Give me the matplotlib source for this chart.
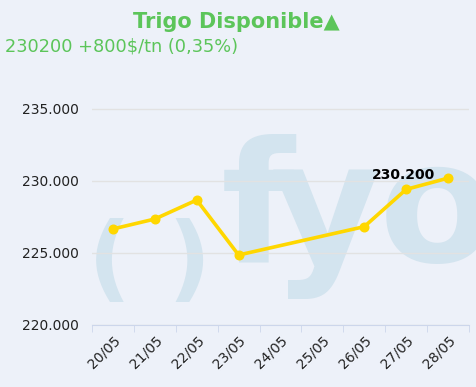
import matplotlib
matplotlib.use("Agg")
import matplotlib.pyplot as plt
import numpy as np

categories = ["20/05", "21/05", "22/05", "23/05", "24/05", "25/05", "26/05", "27/05", "28/05"]
values = [226.67, 227.36, 228.68, 224.86, None, None, 226.83, 229.42, 230.20]
yticks = [220, 225, 230, 235]
ytick_labels = ["220.000", "225.000", "230.000", "235.000"]
title = "Trigo Disponible▲"
subtitle = "230200 +800$/tn (0,35%)"
last_label = "230.200"

bg = "#edf1f9"
green = "#5cc55a"
gold = "#ffd700"
wm = "#d3e4ef"

fig = plt.figure(figsize=(4.76, 3.87), dpi=100, facecolor=bg)
ax = fig.add_axes([92/476, 1-325/387, (469-92)/476, (325-90)/387])
ax.set_facecolor(bg)

# watermark (drawn inside axes, below the grid)
for xpos, s in [(109, "("), (189, ")")]:
    ax.text(xpos/476, 1-290/387, s, fontsize=68, fontweight="bold", color=wm, ha="center",
            va="baseline", transform=fig.transFigure, zorder=0.2, clip_on=False)
for xpos, s in [(258, "f"), (326, "y"), (437, "o")]:
    ax.text(xpos/476, 1-262/387, s, fontsize=122, fontweight="bold", color=wm, ha="center",
            va="baseline", transform=fig.transFigure, zorder=0.2, clip_on=False)

xs = [i for i, v in enumerate(values) if v is not None]
ys = [v for v in values if v is not None]
ax.plot(xs, ys, color=gold, lw=2.6, marker="o", ms=6.2, zorder=3, solid_capstyle="round")
ax.annotate(last_label, (xs[-1], ys[-1]), xytext=(-32, 2), textcoords="offset points",
            ha="center", va="center", fontsize=10, fontweight="bold", color="black", zorder=4)

ax.set_xlim(-0.5, len(categories) - 0.5)
ax.set_ylim(220, 235 + (109-90)/72*5)
ax.set_yticks(yticks)
ax.set_yticklabels(ytick_labels, fontsize=10, color="#222222")
ax.set_xticks(range(len(categories)))
ax.set_xticklabels(categories, rotation=45, ha="right", rotation_mode="anchor", fontsize=10, color="#222222")
ax.set_xticks(np.arange(-0.5, len(categories) - 0.4, 1), minor=True)
ax.tick_params(axis="x", which="major", length=0, pad=6)
ax.tick_params(axis="x", which="minor", length=5, color="#ccd6eb")
ax.tick_params(axis="y", length=0, pad=9.5)
ax.grid(axis="y", color="#e2e2e2", lw=1, zorder=1)
ax.set_axisbelow(True)
for s in ["top", "right", "left"]:
    ax.spines[s].set_visible(False)
ax.spines["bottom"].set_color("#ccd6eb")

fig.text(236/476, 1-22/387, title, fontsize=15, fontweight="bold", color=green, ha="center", va="center")
fig.text(5/476, 1-47/387, subtitle, fontsize=12.8, color=green, ha="left", va="center")

fig.savefig("out.png", dpi=100, facecolor=bg)
